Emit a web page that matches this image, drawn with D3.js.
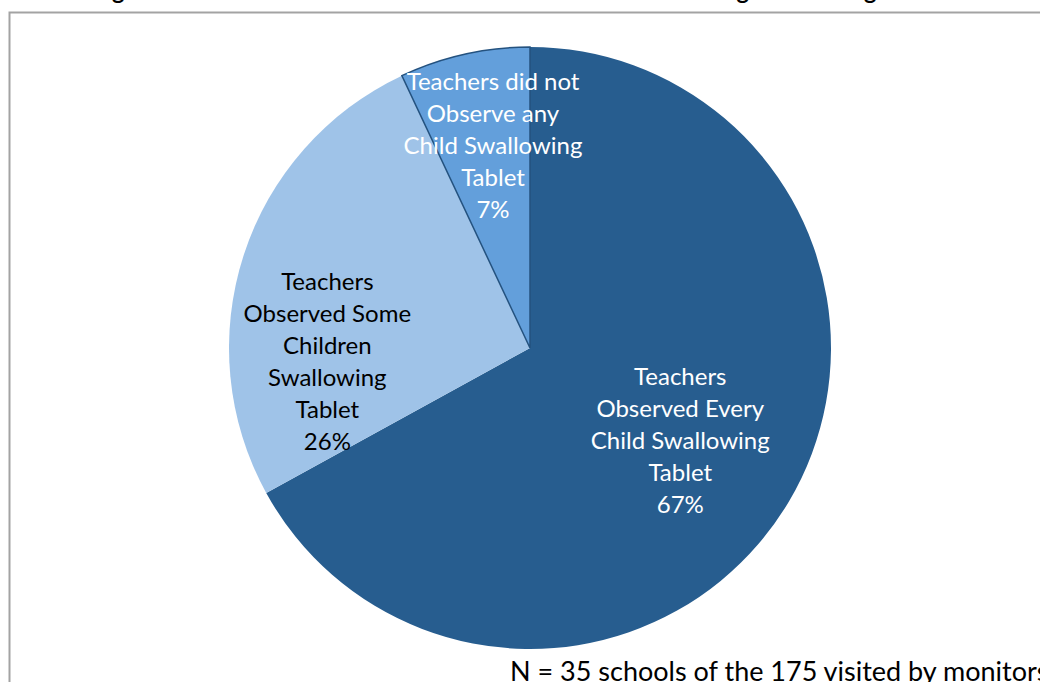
<!DOCTYPE html>
<html>
<head>
<meta charset="utf-8">
<script src="https://cdn.jsdelivr.net/npm/d3@7"></script>
<style>
  body { margin: 0; background: #fff; }
  svg { display: block; }
</style>
</head>
<body>
<div id="display"></div>
<script>
// slice data (clockwise from 12 o'clock)
var labels = [
  ["Teachers", "Observed Every", "Child Swallowing", "Tablet"],
  ["Teachers", "Observed Some", "Children", "Swallowing", "Tablet"],
  ["Teachers did not", "Observe any", "Child Swallowing", "Tablet"]
];
var percents = [67, 26, 7];
var colors = ["#275d8f", "#9fc3e8", "#639fdb"];
var textColors = ["#ffffff", "#000000", "#ffffff"];

var titleText = "Figure 5: Extent of Teacher Observation of Children Swallowing Deworming Tablets";
var noteText = "N = 35 schools of the 175 visited by monitors";

var width = 1040, height = 682;
var cx = 530, cy = 348, radius = 301;

// label placement: fraction of radius along slice middle + nudge (excel "best fit")
var labelLayout = [
  {r: 0.58, dx: 0, dy: 4},
  {r: 0.68, dx: -8, dy: 77},
  {r: 0.67, dx: 7, dy: -5}
];

var svG = d3.select("#display")
  .append("svg")
    .attr("width", width)
    .attr("height", height);

svG.append("rect")
  .attr("width", width).attr("height", height)
  .attr("fill", "#fff");

// chart frame (cut off at right and bottom)
svG.append("rect")
  .attr("x", 9.5).attr("y", 12.5)
  .attr("width", width + 20).attr("height", height + 20)
  .attr("fill", "none")
  .attr("stroke", "#a3a3a3")
  .attr("stroke-width", 2);

// title, mostly above the page edge (only descenders show, as in the source)
svG.append("text")
  .attr("x", 524).attr("y", -1)
  .attr("text-anchor", "middle")
  .style("font-family", "Lato, 'Noto Sans', sans-serif")
  .style("font-weight", "bold")
  .style("font-size", "23.4px")
  .text(titleText);

var pie = d3.pie().sort(null).value(function(d){ return d; });
var arcs = pie(percents);
var arc = d3.arc().innerRadius(0).outerRadius(radius);

var g = svG.append("g")
  .attr("transform", "translate(" + cx + "," + cy + ")");

g.selectAll("path")
  .data(arcs)
  .enter()
  .append("path")
    .attr("d", arc)
    .attr("fill", function(d, i){ return colors[i]; })
    .attr("stroke", function(d, i){ return i == 2 ? "#24527f" : "none"; })
    .attr("stroke-width", 1.5);

var lh = 32;
arcs.forEach(function(d, i) {
  var lay = labelLayout[i];
  var c = d3.arc().innerRadius(radius * lay.r).outerRadius(radius * lay.r).centroid(d);
  var x = c[0] + lay.dx, y = c[1] + lay.dy;
  var lines = labels[i].concat([percents[i] + "%"]);
  var t = g.append("text")
    .attr("text-anchor", "middle")
    .attr("fill", textColors[i])
    .style("font-family", "Lato, 'Noto Sans', sans-serif")
    .style("font-size", "24px");
  lines.forEach(function(line, k) {
    t.append("tspan")
      .attr("x", x)
      .attr("y", y + (k - (lines.length - 1) / 2) * lh + 8)
      .text(line);
  });
});

svG.append("text")
  .attr("x", 510).attr("y", 681)
  .style("font-family", "Lato, 'Noto Sans', sans-serif")
  .style("font-size", "27px")
  .text(noteText);
</script>
</body>
</html>
